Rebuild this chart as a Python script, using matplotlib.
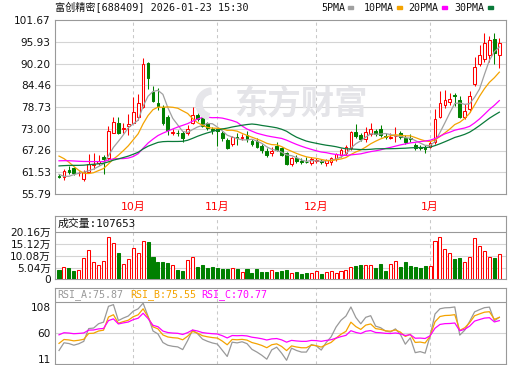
import matplotlib
matplotlib.use('Agg')
import matplotlib.pyplot as plt
from matplotlib.patches import Rectangle, Wedge
from matplotlib.transforms import blended_transform_factory, IdentityTransform
import numpy as np
import pandas as pd

MONO = ['DejaVu Sans Mono', 'Noto Sans CJK SC']
SANS = ['DejaVu Sans', 'Noto Sans CJK SC']

RED = '#ff0000'
GREEN = '#008000'
MA_COLORS = ['#a0a0a0', '#f4a300', '#ff00ff', '#0a7a3a']
RSI_COLORS = ['#999999', '#f4a300', '#ff00ff']

title = '富创精密[688409] 2026-01-23 15:30'

# daily candles, 2025-09-10 .. 2026-01-23
opens = [60.6, 60.2, 62.0, 62.6, 61.2, 59.7, 61.7, 63.4, 63.9, 65.6,
         65.2, 72.0, 74.4, 72.8, 73.7, 74.4, 76.2, 78.8, 90.4, 82.8,
         79.9, 78.8, 76.2, 71.9, 72.0, 71.8, 71.8, 74.4, 76.6, 75.8,
         74.4, 72.9, 72.9, 72.0, 70.0, 69.0, 70.7, 70.5, 71.3, 69.8,
         69.8, 68.4, 67.2, 66.5, 68.5, 67.8, 66.5, 63.7, 65.2, 64.4,
         64.3, 64.05, 64.4, 64.6, 64.0, 64.3, 65.0, 66.1, 66.5, 67.8,
         72.2, 71.4, 70.2, 71.5, 72.5, 72.8, 71.0, 70.6, 71.0, 71.8,
         70.5, 70.5, 68.7, 68.3, 68.1, 68.3, 69.6, 76.2, 79.3, 80.1,
         82.0, 80.6, 76.2, 78.1, 84.8, 90.2, 91.3, 92.4, 96.6, 92.4]
highs = [61.0, 62.3, 63.3, 63.0, 61.9, 62.0, 66.3, 66.5, 66.0, 66.1,
         73.7, 76.2, 76.0, 74.6, 76.9, 81.3, 82.2, 91.6, 90.7, 84.3,
         83.7, 79.3, 76.6, 73.0, 72.6, 72.5, 73.9, 78.6, 77.9, 76.2,
         74.7, 73.5, 73.3, 72.5, 70.5, 71.0, 72.0, 71.5, 72.5, 70.2,
         70.5, 69.0, 67.8, 68.3, 69.5, 68.2, 66.8, 65.5, 66.0, 65.3,
         65.5, 65.5, 65.3, 65.0, 65.1, 65.6, 66.6, 68.0, 68.6, 72.5,
         74.2, 72.0, 73.5, 74.5, 73.0, 74.0, 71.8, 71.8, 73.5, 72.5,
         71.3, 71.5, 69.2, 68.8, 68.8, 69.8, 78.2, 83.0, 83.3, 82.3,
         82.5, 81.5, 79.5, 83.0, 92.0, 95.0, 98.2, 97.5, 98.3, 96.8]
lows = [59.9, 59.4, 61.0, 60.9, 60.6, 59.3, 61.4, 62.5, 63.4, 61.0,
        64.8, 71.8, 71.5, 72.0, 71.4, 74.4, 75.3, 78.4, 83.6, 80.0,
        77.9, 73.9, 71.4, 71.3, 71.0, 69.6, 71.3, 74.2, 75.0, 73.5,
        72.6, 71.5, 68.4, 69.8, 67.6, 68.5, 68.8, 70.0, 69.5, 68.5,
        67.8, 66.5, 65.5, 65.8, 67.0, 65.8, 63.4, 63.3, 64.0, 63.8,
        63.9, 63.5, 64.0, 63.8, 63.2, 63.4, 64.6, 65.6, 66.2, 67.5,
        70.5, 69.8, 69.5, 71.0, 71.0, 70.8, 70.3, 70.3, 69.6, 70.3,
        69.0, 69.5, 67.5, 67.4, 66.5, 68.0, 69.0, 75.8, 78.5, 79.2,
        79.0, 75.7, 75.5, 77.5, 84.2, 89.6, 90.5, 90.5, 90.2, 88.9]
closes = [60.3, 61.8, 61.6, 61.2, 61.4, 61.7, 63.7, 63.8, 64.6, 64.9,
          72.4, 74.7, 71.8, 73.1, 74.2, 77.5, 79.7, 90.2, 86.3, 80.4,
          79.0, 74.4, 72.7, 72.1, 71.8, 70.5, 72.9, 76.6, 75.5, 73.8,
          73.1, 72.6, 72.3, 70.5, 68.0, 70.7, 70.5, 70.7, 70.3, 69.0,
          68.3, 67.4, 66.1, 67.1, 67.4, 66.1, 63.7, 65.2, 64.6, 64.2,
          64.2, 64.9, 64.7, 64.1, 64.7, 65.2, 66.3, 67.4, 68.3, 72.2,
          71.0, 70.2, 72.2, 72.8, 71.5, 71.3, 70.9, 70.8, 71.2, 70.7,
          69.6, 70.2, 67.8, 67.9, 67.6, 69.3, 75.5, 79.7, 80.7, 80.9,
          81.5, 76.2, 77.8, 81.6, 89.4, 92.4, 95.5, 96.4, 92.9, 95.5]
# volume in 万 shares, and the colour of each bar (r / g)
volumes = [4.0, 5.1, 4.7, 3.7, 4.0, 9.0, 12.6, 7.3, 6.0, 7.9,
           18.0, 15.4, 11.4, 6.4, 8.6, 13.3, 11.4, 16.4, 16.0, 9.4,
           7.4, 7.4, 6.9, 6.1, 4.0, 3.7, 8.3, 9.4, 5.4, 6.1,
           4.7, 5.1, 4.9, 4.6, 4.3, 4.7, 4.3, 3.3, 4.6, 2.9,
           4.3, 3.3, 3.0, 3.8, 3.3, 3.5, 4.0, 2.6, 3.3, 2.3,
           2.9, 2.6, 3.6, 2.3, 3.3, 3.6, 2.9, 3.6, 4.0, 5.1,
           5.7, 6.1, 6.1, 6.1, 4.8, 6.6, 3.7, 6.6, 8.0, 5.4,
           7.6, 5.7, 5.4, 5.0, 5.9, 5.9, 16.6, 18.3, 12.9, 11.2,
           8.9, 9.3, 7.3, 9.6, 17.8, 14.2, 12.2, 9.5, 9.1, 10.77]
vol_dir = ('grggrrrrrr' 'rrgrrrrrgg' 'gggrggrrgg' 'gggggrgrgg' 'gggrgggrgg'
           'grrgrrrrrr' 'ggrrgggrrg' 'gggggrrrrr' 'ggrrrrrrgr')

# closes before the window, read back from where the MA lines start
pre_close = [59.5, 60.0, 60.8, 61.2, 60.5, 59.8, 60.3, 61.0, 60.9, 61.0,
             61.2, 61.8, 62.5, 63.0, 62.8, 63.8, 64.2, 64.5, 65.0, 64.2,
             68.5, 71.0, 72.5, 71.5, 69.5, 64.5, 61.5, 59.0, 59.6]

ma_days = [5, 10, 20, 30]
ma_labels = ['5PMA', '10PMA', '20PMA', '30PMA']
rsi_days = [6, 12, 24]
rsi_labels = ['RSI_A:75.87', 'RSI_B:75.55', 'RSI_C:70.77']

month_idx = [15, 32, 52, 75]
month_labels = ['10月', '11月', '12月', '1月']

price_ticks = [55.79, 61.53, 67.26, 73.00, 78.73, 84.46, 90.20, 95.93, 101.67]
vol_ticks = [0, 5.04, 10.08, 15.12, 20.16]
vol_tick_labels = ['0', '5.04万', '10.08万', '15.12万', '20.16万']
rsi_tick_labels = ['11', '60', '108']

W, H = 520, 365
fig = plt.figure(figsize=(W / 100, H / 100), dpi=100)


def px_axes(x0, y0, x1, y1):
    return fig.add_axes([x0 / W, 1 - y1 / H, (x1 - x0) / W, (y1 - y0) / H])


ax = px_axes(55, 20, 506, 194)
axv = px_axes(55, 216, 506, 279.3)
axr = px_axes(55, 288.3, 506, 364)

n = len(closes)
x = np.arange(n)
xlim = (-0.81, 90.35)
o, h, l, c = (np.array(v) for v in (opens, highs, lows, closes))
up = c >= o

for a in (ax, axv, axr):
    a.set_xlim(*xlim)
    a.set_xticks([])
    for s in a.spines.values():
        s.set_color('#999999')
        s.set_linewidth(0.8)
    for i in month_idx:
        a.axvline(i, color='#c8c8c8', ls=(0, (3, 3)), lw=0.75, zorder=0)
    a.tick_params(axis='y', length=0, pad=3, labelsize=7.6, labelcolor='#111111')

# --- price panel
ax.set_ylim(price_ticks[0], price_ticks[-1])
ax.set_yticks(price_ticks)
ax.set_yticklabels([f'{t:.2f}' for t in price_ticks])
for t in price_ticks[1:-1]:
    ax.axhline(t, color='#d4d4d4', lw=0.8, zorder=0)

# faint watermark
ax.text(0.545, 0.51, '东方财富', transform=ax.transAxes, ha='center', va='center',
        fontsize=24, fontweight='bold', color='#e4e4e8', family=SANS, zorder=0)
fig.patches.append(Wedge((212, H - 104), 16, 95, 255, width=6, color='#e6e6ea',
                         transform=IdentityTransform(), zorder=0))

ax.vlines(x, l, h, colors=np.where(up, RED, GREEN), lw=0.75, zorder=2)
body_lo = np.minimum(o, c)
body_h = np.maximum(np.abs(c - o), 0.1)
ax.bar(x[up], body_h[up], 0.56, bottom=body_lo[up], facecolor='white',
       edgecolor=RED, lw=0.75, zorder=3)
ax.bar(x[~up], body_h[~up], 0.56, bottom=body_lo[~up], color=GREEN,
       edgecolor=GREEN, lw=0.75, zorder=3)

all_close = pd.Series(pre_close + closes)
for d, colr in zip(ma_days, MA_COLORS):
    ma = all_close.rolling(d).mean().to_numpy()[-n:]
    ax.plot(x, ma, color=colr, lw=0.9, zorder=4)

# --- volume panel
vol_top = 20.16 * 63.3 / 47.0
axv.set_ylim(0, vol_top)
axv.set_yticks(vol_ticks)
axv.set_yticklabels(vol_tick_labels, family=SANS)
for t in vol_ticks[1:-1]:
    axv.axhline(t, color='#d4d4d4', lw=0.8, zorder=0)
axv.axhline(vol_ticks[-1], color='#999999', lw=0.8, zorder=1)
vol = np.array(volumes)
vr = np.array([ch == 'r' for ch in vol_dir])
axv.bar(x[vr], vol[vr], 0.62, facecolor='white', edgecolor=RED, lw=0.75, zorder=3)
axv.bar(x[~vr], vol[~vr], 0.62, color=GREEN, edgecolor=GREEN, lw=0.75, zorder=3)
axv.text(0.005, 0.88, '成交量:107653', transform=axv.transAxes, ha='left',
         va='center', fontsize=7.8, family=MONO, color='#111111')


# --- RSI panel: scale fitted so the lines sit where the reference draws them
def sma_rsi(s, d):
    diff = s.diff()
    gain = diff.clip(lower=0).ewm(alpha=1 / d, adjust=False).mean()
    loss = (-diff).clip(lower=0).ewm(alpha=1 / d, adjust=False).mean()
    return (100 * gain / (gain + loss)).to_numpy()[-n:]


def rsi_val(py):
    return (375.5 - py) / 0.78


axr.set_ylim(rsi_val(364), rsi_val(288.3))
axr.set_yticks([rsi_val(359), rsi_val(333.3), rsi_val(306.7)])
axr.set_yticklabels(rsi_tick_labels)
axr.axhline(rsi_val(333.3), color='#d4d4d4', lw=0.8, zorder=0)
axr.axhline(rsi_val(301.7), color='#999999', lw=0.8, zorder=1)
for d, colr in zip(rsi_days, RSI_COLORS):
    axr.plot(x, sma_rsi(all_close, d), color=colr, lw=0.9, zorder=3)
for xpos, lab, colr in zip([57, 130, 201.7], rsi_labels, RSI_COLORS):
    fig.text(xpos / W, 1 - 295 / H, lab, ha='left', va='center', fontsize=7.2,
             family=MONO, color=colr)

# --- month labels
tr = blended_transform_factory(ax.transData, fig.transFigure)
for i, lab in zip(month_idx, month_labels):
    ax.text(i, 1 - 206.5 / H, lab, transform=tr, ha='center', va='center',
            fontsize=7.8, family=SANS, color=RED, clip_on=False)

# --- title and legend
fig.text(55 / W, 1 - 8 / H, title, ha='left', va='center', fontsize=7.3,
         family=MONO, color='#111111')
for xpos, sq, lab, colr in zip([321.7, 363.3, 408.3, 454.3],
                               [348, 396.7, 441.7, 488.3], ma_labels, MA_COLORS):
    fig.text(xpos / W, 1 - 8 / H, lab, ha='left', va='center', fontsize=7.2,
             family=MONO, color='#111111')
    fig.patches.append(Rectangle((sq / W, 1 - 9.3 / H), 5 / W, 3 / H,
                                 transform=fig.transFigure, color=colr))

fig.savefig('out.png', dpi=100)
